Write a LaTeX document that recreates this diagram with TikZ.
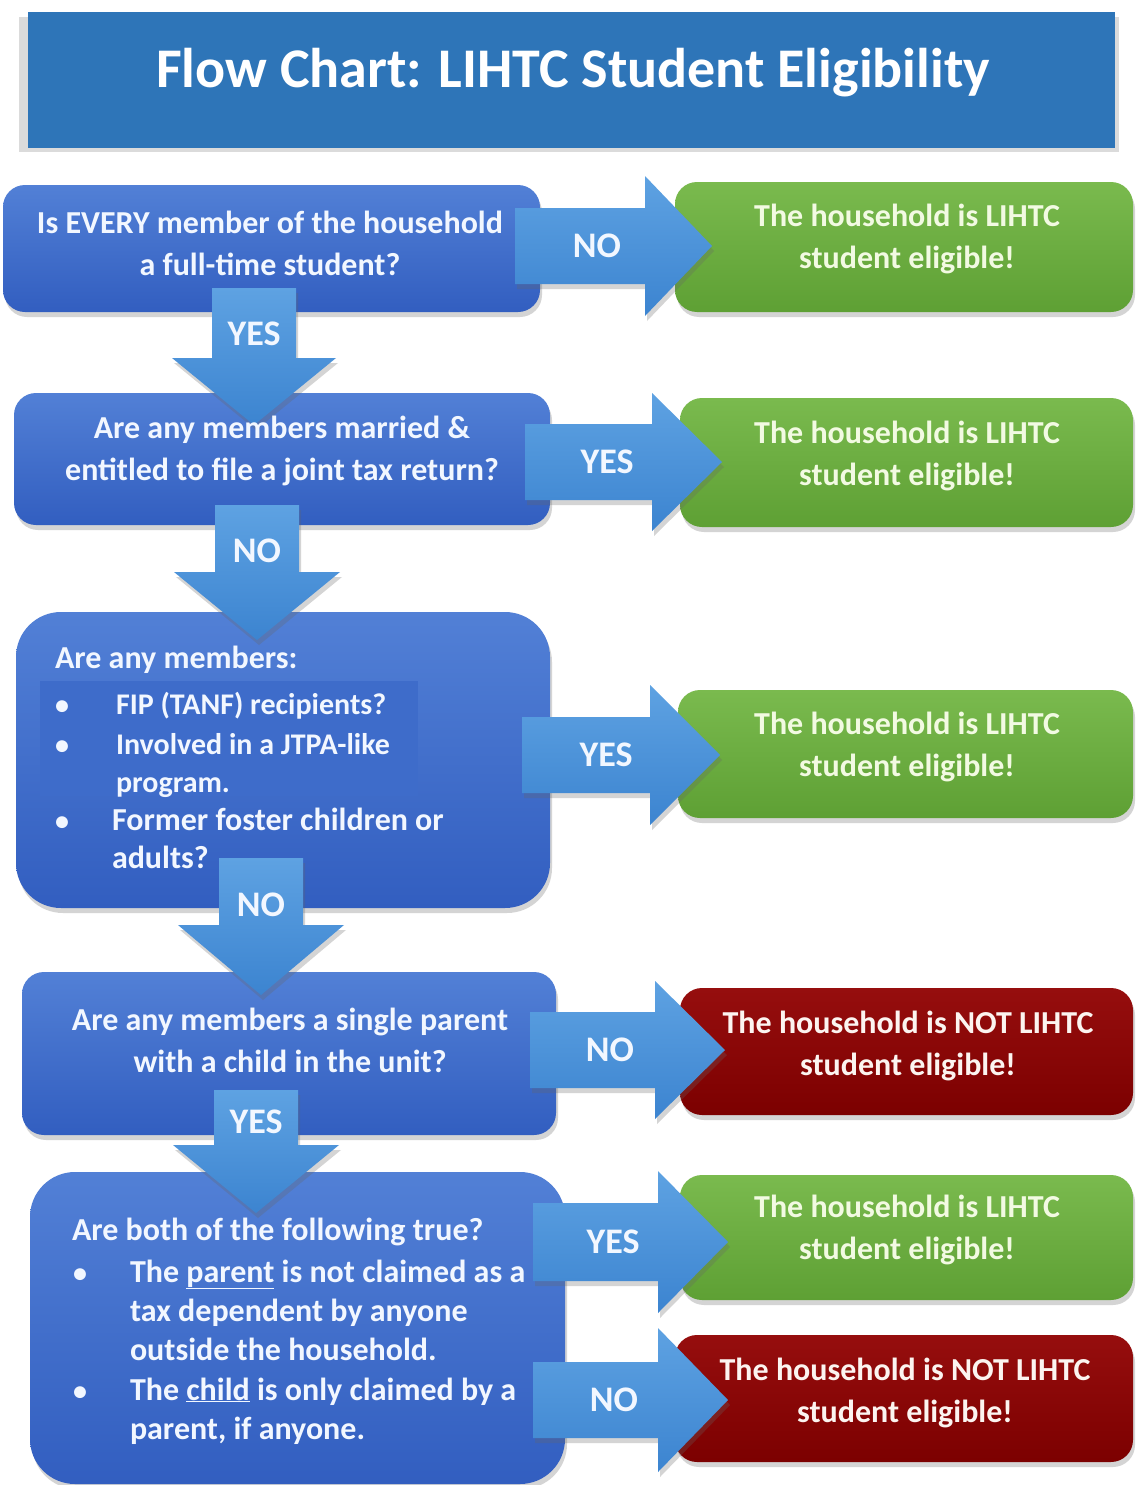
\documentclass[tikz,border=0pt]{standalone}
\usepackage{fontspec}
\setmainfont{Carlito}
\usetikzlibrary{shadows}
\definecolor{titleblue}{RGB}{46,117,184}
\definecolor{qtop}{RGB}{82,128,214}
\definecolor{qbot}{RGB}{50,94,192}
\definecolor{qmid}{RGB}{62,108,202}
\definecolor{atop}{RGB}{94,162,226}
\definecolor{abot}{RGB}{60,132,208}
\definecolor{gtop}{RGB}{122,186,78}
\definecolor{gbot}{RGB}{94,160,52}
\definecolor{rtop}{RGB}{150,14,14}
\definecolor{rbot}{RGB}{124,0,0}
\definecolor{qtext}{RGB}{242,247,255}
\definecolor{gtext}{RGB}{242,250,226}
\definecolor{rtext}{RGB}{252,244,240}
\newcommand\PlaceBox[6]{% name x1 y1 x2 y2 style
  \node[#6, minimum width={#4-#2}, minimum height={#5-#3}] (#1) at ({(#2+#4)/2},{(#3+#5)/2}) {};}
\newcommand\RArr[9]{% name xs xb xt yc sh hh labelx label
  \path[arrowbody] (#2,#5-#6) -- (#3,#5-#6) -- (#3,#5-#7) -- (#4,#5) -- (#3,#5+#7) -- (#3,#5+#6) -- (#2,#5+#6) -- cycle;
  \node[arrowlbl] (#1) at (#8,#5) {#9};}
\newcommand\DArr[9]{% name xc ys yb yt sh hh labely label
  \path[arrowbody] (#2-#6,#3) -- (#2-#6,#4) -- (#2-#7,#4) -- (#2,#5) -- (#2+#7,#4) -- (#2+#6,#4) -- (#2+#6,#3) -- cycle;
  \node[arrowlbl] (#1) at (#2,#8) {#9};}
\begin{document}
\begin{tikzpicture}[x=1pt,y=-1pt,
  every node/.style={inner sep=0pt, outer sep=0pt},
  shadowed/.style={drop shadow={shadow xshift=2pt, shadow yshift=-5pt, opacity=0.28, fill=black!60}},
  qbox/.style={shadowed, rounded corners=22pt, top color=qtop, bottom color=qbot},
  bigqbox/.style={qbox, rounded corners=45pt},
  gbox/.style={shadowed, rounded corners=22pt, top color=gtop, bottom color=gbot},
  rbox/.style={shadowed, rounded corners=22pt, top color=rtop, bottom color=rbot},
  arrowbody/.style={shadowed, top color=atop, bottom color=abot},
  arrowlbl/.style={font=\fontsize{36}{40}\selectfont\bfseries, text=qtext},
  btxt/.style={font=\fontsize{32}{42}\selectfont\bfseries, align=center},
  ltxt/.style={font=\fontsize{32}{38}\selectfont\bfseries, text=qtext, anchor=base west},
  stxt/.style={font=\fontsize{30}{36}\selectfont\bfseries, text=qtext, anchor=base west},
  bul/.style={font=\fontsize{28}{36}\selectfont\bfseries, text=qtext, anchor=base}]
\useasboundingbox (0,0) rectangle (1135,1485);
\fill[white] (0,0) rectangle (1135,1485);
% title
\fill[black!14] (19,17) rectangle (1119,152);
\node[fill=titleblue, minimum width=1087, minimum height=136] (title) at (571.5,80) {};
\node[font=\fontsize{56}{60}\selectfont\bfseries, text=white, anchor=base] (titlet) at (573,88) {Flow Chart: LIHTC Student Eligibility};
% boxes
\PlaceBox{q1}{3}{185}{540}{312}{qbox}
\PlaceBox{q2}{14}{393}{550}{525}{qbox}
\PlaceBox{q3}{16}{612}{550}{908}{bigqbox}
\PlaceBox{q4}{22}{972}{556}{1135}{qbox}
\PlaceBox{q5}{30}{1172}{565}{1484}{bigqbox}
\PlaceBox{g1}{675}{182}{1133}{312}{gbox}
\PlaceBox{g2}{680}{398}{1133}{527}{gbox}
\PlaceBox{g3}{678}{690}{1133}{818}{gbox}
\PlaceBox{r1}{680}{988}{1133}{1115}{rbox}
\PlaceBox{g4}{680}{1175}{1133}{1300}{gbox}
\PlaceBox{r2}{675}{1335}{1133}{1462}{rbox}
\node[fill=qmid, minimum width=378, minimum height=115] (q3panel) at (229,738) {};
% arrows
\RArr{a1}{515}{645}{712}{246}{38}{70}{597}{NO}
\RArr{a2}{525}{652}{722}{462}{38}{69}{607}{YES}
\RArr{a3}{522}{650}{720}{755}{38}{70}{606}{YES}
\RArr{a4}{530}{655}{725}{1050}{38}{69}{610}{NO}
\RArr{a5}{533}{658}{728}{1242}{39}{71}{613}{YES}
\RArr{a6}{533}{658}{728}{1400}{38}{72}{614}{NO}
\DArr{d1}{254}{288}{358}{425}{42}{82}{334}{YES}
\DArr{d2}{257}{505}{572}{640}{42}{83}{551}{NO}
\DArr{d3}{261}{858}{925}{995}{42}{83}{905}{NO}
\DArr{d4}{256}{1090}{1145}{1213}{42}{83}{1122}{YES}
% texts
\node[btxt, text=qtext] (q1t) at (270,243) {Is EVERY member of the household\\a full-time student?};
\node[btxt, text=qtext] (q2t) at (282,451) {Are any members married \&\\entitled to file a joint tax return?};
\node[btxt, text=qtext] (q4t) at (290,1040) {Are any members a single parent\\with a child in the unit?};
\node[btxt, text=gtext] (g1t) at (907,239) {The household is LIHTC\\student eligible!};
\node[btxt, text=gtext] (g2t) at (907,456) {The household is LIHTC\\student eligible!};
\node[btxt, text=gtext] (g3t) at (907,747) {The household is LIHTC\\student eligible!};
\node[btxt, text=gtext] (g4t) at (907,1230) {The household is LIHTC\\student eligible!};
\node[btxt, text=rtext] (r1t) at (908,1046) {The household is NOT LIHTC\\student eligible!};
\node[btxt, text=rtext] (r2t) at (905,1393) {The household is NOT LIHTC\\student eligible!};
% box 3 lines
\node[ltxt] (q3l1) at (55,668) {Are any members:};
\node[bul] (q3b1) at (62,714) {•};
\node[stxt] (q3l2) at (116,714) {FIP (TANF) recipients?};
\node[bul] (q3b2) at (62,754) {•};
\node[stxt] (q3l3) at (116,754) {Involved in a JTPA-like};
\node[stxt] (q3l4) at (116,792) {program.};
\node[bul] (q3b3) at (62,830) {•};
\node[ltxt] (q3l5) at (112,830) {Former foster children or};
\node[ltxt] (q3l6) at (112,868) {adults?};
% box 5 lines
\node[ltxt] (q5l1) at (72,1240) {Are both of the following true?};
\node[bul] (q5b1) at (80,1282) {•};
\node[ltxt] (q5l2) at (130,1282) {The \underline{parent} is not claimed as a};
\node[ltxt] (q5l3) at (130,1321) {tax dependent by anyone};
\node[ltxt] (q5l4) at (130,1360) {outside the household.};
\node[bul] (q5b2) at (80,1400) {•};
\node[ltxt] (q5l5) at (130,1400) {The \underline{child} is only claimed by a};
\node[ltxt] (q5l6) at (130,1439) {parent, if anyone.};
\end{tikzpicture}
\end{document}
